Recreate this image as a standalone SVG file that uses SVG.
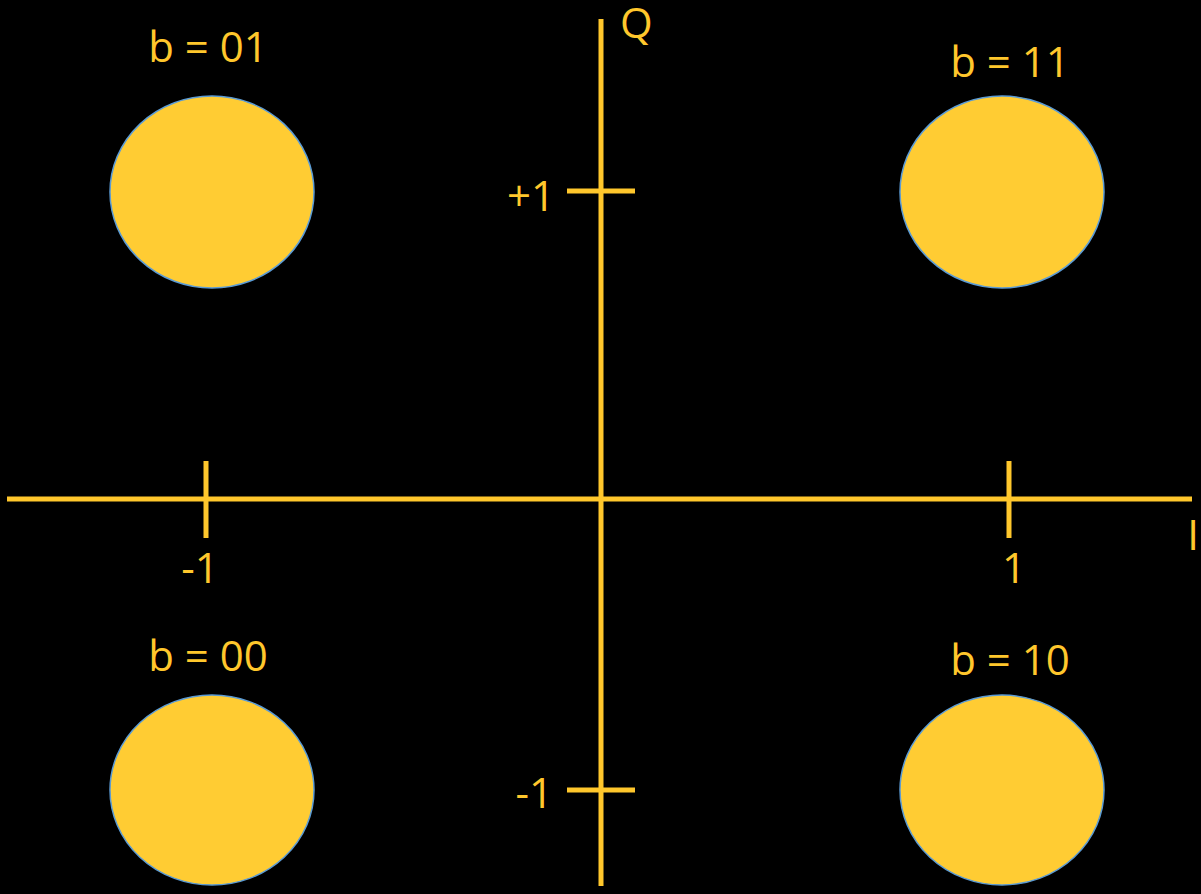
<svg xmlns="http://www.w3.org/2000/svg" width="1201" height="894" viewBox="0 0 1201 894">
<style>
.ax{stroke:#FFC72C;stroke-width:5;fill:none}
.pt{fill:#FFCC33;stroke:#5B9BD5;stroke-width:1.5}
.t{fill:#FFC72C;font-family:"Open Sans","Liberation Sans",sans-serif;font-size:42px}
</style>
<rect width="1201" height="894" fill="#000"/>
<g id="axes">
<line class="ax" x1="7" y1="499" x2="1192" y2="499"/>
<line class="ax" x1="601" y1="19" x2="601" y2="886"/>
<line class="ax" x1="567" y1="191" x2="635" y2="191"/>
<line class="ax" x1="567" y1="790" x2="635" y2="790"/>
<line class="ax" x1="206" y1="461" x2="206" y2="538"/>
<line class="ax" x1="1009" y1="461" x2="1009" y2="538"/>
</g>
<g id="axis-labels">
<text class="t" x="620" y="38">Q</text>
<text class="t" x="1193" y="550" text-anchor="middle">I</text>
<text class="t" x="555" y="211" text-anchor="end">+1</text>
<text class="t" x="553" y="808" text-anchor="end">-1</text>
<text class="t" x="200" y="583" text-anchor="middle">-1</text>
<text class="t" x="1014" y="583" text-anchor="middle">1</text>
</g>
<g id="p01">
<ellipse class="pt" cx="212" cy="192" rx="102" ry="96"/>
<text class="t" x="208" y="62" text-anchor="middle">b = 01</text>
</g>
<g id="p11">
<ellipse class="pt" cx="1002" cy="192" rx="102" ry="96"/>
<text class="t" x="1010" y="77" text-anchor="middle">b = 11</text>
</g>
<g id="p00">
<ellipse class="pt" cx="212" cy="790" rx="102" ry="95"/>
<text class="t" x="208" y="671" text-anchor="middle">b = 00</text>
</g>
<g id="p10">
<ellipse class="pt" cx="1002" cy="790" rx="102" ry="95"/>
<text class="t" x="1010" y="675" text-anchor="middle">b = 10</text>
</g>
</svg>
